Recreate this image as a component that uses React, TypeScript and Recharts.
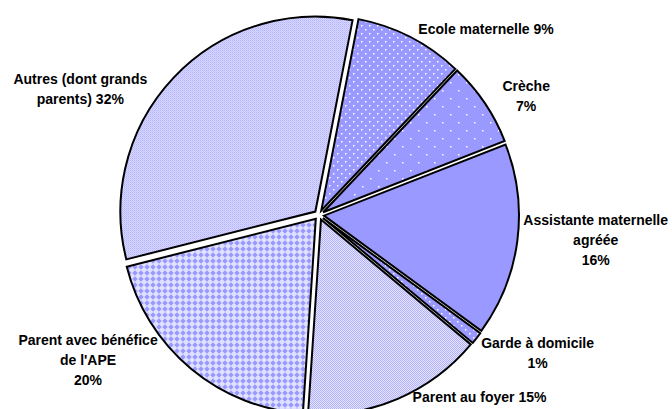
import React from 'react';
import { PieChart, Pie, Cell, Sector } from 'recharts';

// ---- data ----
const categories = [
  'Ecole maternelle',
  'Crèche',
  'Assistante maternelle agréée',
  'Garde à domicile',
  'Parent au foyer',
  "Parent avec bénéfice de l'APE",
  'Autres (dont grands parents)',
];
const shares = [9, 7, 16, 1, 15, 20, 32];
const labelLines = [
  ['Ecole maternelle 9%'],
  ['Crèche', '7%'],
  ['Assistante maternelle', 'agréée', '16%'],
  ['Garde à domicile', '1%'],
  ['Parent au foyer 15%'],
  ['Parent avec bénéfice', "de l'APE", '20%'],
  ['Autres (dont grands', 'parents) 32%'],
];

// ---- presentation ----
const fills = [
  'url(#patEcole)',
  'url(#patCreche)',
  '#9999FF',
  'url(#patEcole)',
  'url(#patFoyer)',
  'url(#patAPE)',
  'url(#patAutres)',
];
const labelShift: [number, number][] = [
  [7, -6],
  [16, -6],
  [4, -1],
  [3, 14],
  [14, -4],
  [-32, -10],
  [-25, 13],
];

const RAD = Math.PI / 180;
const EXPLODE = 5;
const FONT = '"Liberation Sans", Arial, Helvetica, sans-serif';
const FONT_SIZE = 14;
const LINE_H = 20;

const data = categories.map((name, i) => ({ name, value: shares[i] }));

let ctx: CanvasRenderingContext2D | null = null;
function textWidth(s: string): number {
  if (!ctx && typeof document !== 'undefined') {
    ctx = document.createElement('canvas').getContext('2d');
  }
  if (!ctx) return s.length * 7.8;
  ctx.font = `bold ${FONT_SIZE}px ${FONT}`;
  return ctx.measureText(s).width;
}

const renderSlice = (props: any) => {
  const mid = (props.startAngle + props.endAngle) / 2;
  const dx = EXPLODE * Math.cos(-mid * RAD);
  const dy = EXPLODE * Math.sin(-mid * RAD);
  return <Sector {...props} cx={props.cx + dx} cy={props.cy + dy} />;
};

const renderLabel = (p: any) => {
  let i = typeof p.index === 'number' ? p.index : categories.indexOf(p.name);
  if (i < 0) i = 0;
  const mid = p.midAngle;
  const R = p.outerRadius + 7;
  const bx = p.cx + R * Math.cos(-mid * RAD);
  const by = p.cy + R * Math.sin(-mid * RAD);
  const lines = labelLines[i];
  const w = Math.max(...lines.map(textWidth));
  const right = bx >= p.cx;
  const [sx, sy] = labelShift[i];
  const centerX = right ? bx + sx + w / 2 : bx + sx - w / 2;
  const centerY = by + sy;
  return (
    <text
      x={centerX}
      y={centerY}
      textAnchor="middle"
      fontFamily={FONT}
      fontWeight="bold"
      fontSize={FONT_SIZE}
      fill="#000"
    >
      {lines.map((l, k) => (
        <tspan key={k} x={centerX} y={centerY + (k - (lines.length - 1) / 2) * LINE_H} dy="0.35em">
          {l}
        </tspan>
      ))}
    </text>
  );
};

export default function App() {
  return (
    <div style={{ position: 'absolute', left: 0, top: 0, width: 672, height: 409, background: '#fff' }}>
      <svg width={0} height={0} style={{ position: 'absolute' }}>
        <defs>
          <pattern id="patAutres" width={2} height={2} patternUnits="userSpaceOnUse">
            <rect width={2} height={2} fill="#D6D6FF" />
            <rect width={1} height={1} fill="#B4B4FF" />
            <rect x={1} y={1} width={1} height={1} fill="#C4C4FF" />
          </pattern>
          <pattern id="patFoyer" width={2} height={2} patternUnits="userSpaceOnUse">
            <rect width={2} height={2} fill="#E6E6FF" />
            <rect width={1} height={1} fill="#B0B0FF" />
            <rect x={1} y={1} width={1} height={1} fill="#B0B0FF" />
          </pattern>
          <pattern id="patAPE" width={6} height={6} patternUnits="userSpaceOnUse">
            <rect width={6} height={6} fill="#E0E0FF" />
            <polygon points="3,0.3 5.7,3 3,5.7 0.3,3" fill="#9999FF" />
          </pattern>
          <pattern id="patEcole" width={8} height={8} patternUnits="userSpaceOnUse">
            <rect width={8} height={8} fill="#9999FF" />
            <rect x={1} y={1} width={1.5} height={1.5} fill="#FFFFFF" />
            <rect x={5} y={5} width={1.5} height={1.5} fill="#FFFFFF" />
          </pattern>
          <pattern id="patCreche" width={16} height={16} patternUnits="userSpaceOnUse">
            <rect width={16} height={16} fill="#9999FF" />
            <rect x={2} y={2} width={1.5} height={1.5} fill="#FFFFFF" />
            <rect x={10} y={10} width={1.5} height={1.5} fill="#FFFFFF" />
          </pattern>
        </defs>
      </svg>
      <PieChart width={672} height={409}>
        <Pie
          data={data}
          dataKey="value"
          nameKey="name"
          cx={314}
          cy={210}
          outerRadius={195}
          startAngle={79}
          endAngle={-281}
          stroke="#000"
          strokeWidth={2}
          isAnimationActive={false}
          shape={renderSlice}
          label={renderLabel}
          labelLine={false}
        >
          {data.map((d, i) => (
            <Cell key={d.name} fill={fills[i]} />
          ))}
        </Pie>
      </PieChart>
    </div>
  );
}
